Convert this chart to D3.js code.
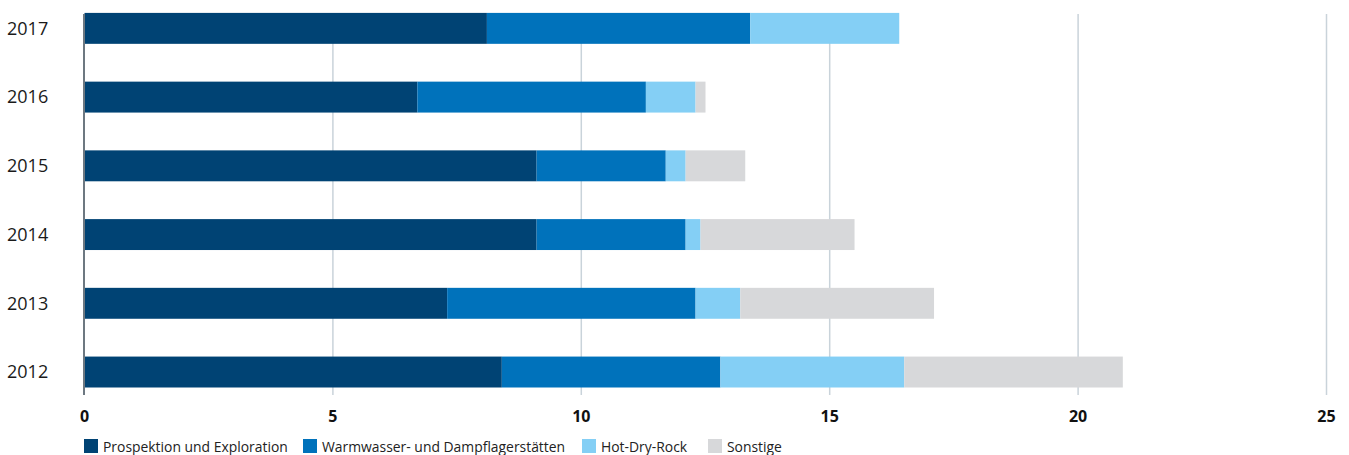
<!DOCTYPE html>
<html>
<head>
<meta charset="utf-8">
<script src="https://cdn.jsdelivr.net/npm/d3@7"></script>
<style>
  body { margin: 0; background: #fff; }
  svg { display: block; font-family: "Open Sans", "Noto Sans", sans-serif; }
</style>
</head>
<body>
<svg id="chart" width="1349" height="455"></svg>
<script>
const years = ["2017", "2016", "2015", "2014", "2013", "2012"];
const seriesNames = ["Prospektion und Exploration", "Warmwasser- und Dampflagerstätten", "Hot-Dry-Rock", "Sonstige"];
const prospektion = [8.1, 6.7, 9.1, 9.1, 7.3, 8.4];
const warmwasser = [5.3, 4.6, 2.6, 3.0, 5.0, 4.4];
const hotDryRock = [3.0, 1.0, 0.4, 0.3, 0.9, 3.7];
const sonstige = [0, 0.2, 1.2, 3.1, 3.9, 4.4];
const xTicks = [0, 5, 10, 15, 20, 25];

const colors = ["#004374", "#0072bb", "#84cff5", "#d7d8da"];

const rows = years.map((y, i) => ({
  year: y,
  [seriesNames[0]]: prospektion[i],
  [seriesNames[1]]: warmwasser[i],
  [seriesNames[2]]: hotDryRock[i],
  [seriesNames[3]]: sonstige[i]
}));

const svg = d3.select("#chart");

const x = d3.scaleLinear().domain([0, 25]).range([84.5, 1326.5]);
const y = d3.scaleBand()
  .domain(years)
  .range([-6, 406.4])
  .paddingInner(0.55)
  .paddingOuter(0.275);

// grid
svg.append("g")
  .selectAll("line")
  .data(xTicks.slice(1))
  .join("line")
  .attr("x1", d => x(d)).attr("x2", d => x(d))
  .attr("y1", 14).attr("y2", 395)
  .attr("stroke", "#c9d3da")
  .attr("stroke-width", 1.5);

const stack = d3.stack().keys(seriesNames)(rows);

svg.append("g")
  .selectAll("g")
  .data(stack)
  .join("g")
  .attr("fill", (d, i) => colors[i])
  .selectAll("rect")
  .data(d => d)
  .join("rect")
  .attr("x", d => x(d[0]))
  .attr("width", d => x(d[1]) - x(d[0]))
  .attr("y", d => y(d.data.year))
  .attr("height", y.bandwidth());

// y axis line
svg.append("line")
  .attr("x1", 84).attr("x2", 84)
  .attr("y1", 14).attr("y2", 395)
  .attr("stroke", "#6d7881")
  .attr("stroke-width", 2);

// year labels
svg.append("g")
  .selectAll("text")
  .data(years)
  .join("text")
  .attr("x", 7)
  .attr("y", d => y(d) + y.bandwidth() / 2)
  .attr("dy", "0.35em")
  .attr("font-size", 18)
  .attr("fill", "#1a1a1a")
  .text(d => d);

// x tick labels
svg.append("g")
  .selectAll("text")
  .data(xTicks)
  .join("text")
  .attr("x", d => x(d))
  .attr("y", 422)
  .attr("text-anchor", "middle")
  .attr("font-size", 16)
  .attr("font-weight", "bold")
  .attr("fill", "#111")
  .text(d => d);

// legend
const legendX = [84, 303, 582, 708];
const legend = svg.append("g")
  .selectAll("g")
  .data(seriesNames)
  .join("g")
  .attr("transform", (d, i) => `translate(${legendX[i]},439)`);

legend.append("rect")
  .attr("width", 14).attr("height", 14)
  .attr("fill", (d, i) => colors[i]);

legend.append("text")
  .attr("x", 19)
  .attr("y", 13)
  .attr("font-size", 13.9)
  .attr("fill", "#222")
  .text(d => d);
</script>
</body>
</html>
